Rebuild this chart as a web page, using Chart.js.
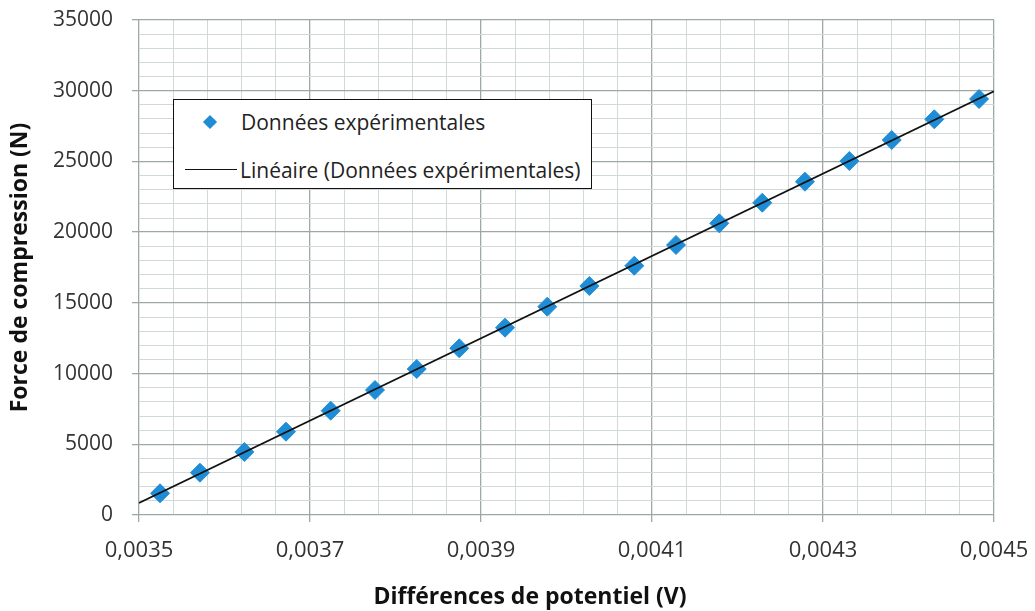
<!DOCTYPE html>
<html>
<head>
<meta charset="utf-8">
<script src="https://cdn.jsdelivr.net/npm/chart.js@4/dist/chart.umd.min.js"></script>
<style>
  html, body { margin: 0; padding: 0; background: #fff; }
  #wrap { position: relative; width: 1035px; height: 611px; }
  canvas { display: block; }
  #legend {
    position: absolute; left: 173px; top: 99px; width: 419px; height: 90px;
    border: 1.5px solid #111; background: #fff; box-sizing: border-box;
    font-family: "Open Sans", sans-serif; font-size: 21px; color: #222;
  }
  .row { position: absolute; left: 0; height: 28px; line-height: 28px; white-space: nowrap; }
  .sym { position: absolute; top: 0; height: 28px; }
  .txt { position: absolute; top: 0; }
  .diamond { position: absolute; width: 10px; height: 10px; background: #1f8dd6; transform: rotate(45deg); top: 9px; left: 0; }
  .lineSym { position: absolute; top: 13px; left: 0; width: 52px; height: 0; border-top: 1.5px solid #111; }
</style>
</head>
<body>
<div id="wrap">
  <canvas id="c" width="1035" height="611"></canvas>
  <div id="legend"></div>
</div>
<script>
// ---- Data ----
const voltage = [
  0.0035246, 0.0035713, 0.0036232, 0.0036719, 0.0037242,
  0.0037760, 0.0038248, 0.0038746, 0.0039281, 0.0039775,
  0.0040267, 0.0040793, 0.0041281, 0.0041787, 0.0042290,
  0.0042789, 0.0043308, 0.0043804, 0.0044302, 0.0044825
];
const force = [
  1534, 2991, 4455, 5890, 7375,
  8838, 10323, 11787, 13243, 14728,
  16192, 17627, 19091, 20625, 22081,
  23567, 25030, 26515, 27978, 29414
];
const seriesLabel = "Données expérimentales";
const trendLabel = "Linéaire (Données expérimentales)";
const xTitle = "Différences de potentiel (V)";
const yTitle = "Force de compression (N)";
const xMin = 0.0035, xMax = 0.0045, xMajor = 0.0002, xMinor = 0.00004;
const yMin = 0, yMax = 35000, yMajor = 5000, yMinor = 1000;

// ---- Least-squares linear trend ----
const n = voltage.length;
const mx = voltage.reduce((a, b) => a + b, 0) / n;
const my = force.reduce((a, b) => a + b, 0) / n;
let sxy = 0, sxx = 0;
for (let i = 0; i < n; i++) { sxy += (voltage[i] - mx) * (force[i] - my); sxx += (voltage[i] - mx) ** 2; }
const slope = sxy / sxx, intercept = my - slope * mx;
const trendPts = [xMin, xMax].map(x => ({ x, y: slope * x + intercept }));

const points = voltage.map((v, i) => ({ x: v, y: force[i] }));

const MARK = '#1f8dd6';
const GRID_MAJOR = '#9ea8a8';
const GRID_MINOR = '#d0d8d8';
const FONT = '"Open Sans", sans-serif';

const xPerMajor = Math.round(xMajor / xMinor);
const yPerMajor = Math.round(yMajor / yMinor);

const xTitlePlugin = {
  id: 'xTitle',
  afterDraw(chart) {
    const ctx = chart.ctx;
    ctx.save();
    ctx.font = 'bold 23px ' + FONT;
    ctx.fillStyle = '#111';
    ctx.textAlign = 'center';
    ctx.textBaseline = 'middle';
    ctx.fillText(xTitle, 530, 597);
    ctx.restore();
  }
};

new Chart(document.getElementById('c'), {
  type: 'scatter',
  data: {
    datasets: [
      {
        type: 'line',
        label: trendLabel,
        data: trendPts,
        borderColor: '#111',
        borderWidth: 1.6,
        pointRadius: 0,
        fill: false,
        order: 0
      },
      {
        label: seriesLabel,
        data: points,
        pointStyle: 'rectRot',
        pointRadius: 9.5,
        pointBackgroundColor: MARK,
        pointBorderColor: MARK,
        pointBorderWidth: 1,
        order: 1
      }
    ]
  },
  plugins: [xTitlePlugin],
  options: {
    responsive: false,
    animation: false,
    layout: { padding: { left: 0, right: 41, top: 20, bottom: 0 } },
    plugins: { legend: { display: false }, tooltip: { enabled: false } },
    scales: {
      x: {
        type: 'linear',
        min: xMin, max: xMax,
        afterFit(s) { s.height = 96; s.paddingLeft = 0; s.paddingRight = 0; },
        border: { display: false },
        grid: {
          color: c => (c.index % xPerMajor === 0 ? GRID_MAJOR : GRID_MINOR),
          lineWidth: c => (c.index % xPerMajor === 0 ? 1.3 : 1),
          tickColor: c => (c.index % xPerMajor === 0 ? GRID_MAJOR : 'rgba(0,0,0,0)'),
          tickLength: 7,
          drawTicks: true
        },
        ticks: {
          stepSize: xMinor,
          autoSkip: false,
          maxRotation: 0,
          padding: 16,
          color: '#333',
          font: { family: FONT, size: 22 },
          callback: function (v, i) {
            if (i % xPerMajor !== 0) return '';
            return v.toFixed(4).replace('.', ',');
          }
        }
      },
      y: {
        type: 'linear',
        min: yMin, max: yMax,
        afterFit(s) { s.width = 139; s.paddingTop = 0; s.paddingBottom = 0; },
        border: { display: false },
        grid: {
          color: c => (c.index % yPerMajor === 0 ? GRID_MAJOR : GRID_MINOR),
          lineWidth: c => (c.index % yPerMajor === 0 ? 1.3 : 1),
          tickColor: c => (c.index % yPerMajor === 0 ? GRID_MAJOR : 'rgba(0,0,0,0)'),
          tickLength: 7,
          drawTicks: true
        },
        ticks: {
          stepSize: yMinor,
          autoSkip: false,
          padding: 19,
          color: '#333',
          font: { family: FONT, size: 21 },
          callback: function (v, i) {
            if (i % yPerMajor !== 0) return '';
            return String(Math.round(v));
          }
        },
        title: {
          display: true,
          text: yTitle,
          color: '#111',
          font: { family: FONT, size: 23, weight: 'bold' },
          padding: { top: 7, bottom: 0 }
        }
      }
    }
  }
});

// ---- HTML legend inside plot area ----
const legend = document.getElementById('legend');
legend.innerHTML =
  '<div class="row" style="top:8px">' +
    '<span class="sym" style="left:31px;width:14px"><span class="diamond"></span></span>' +
    '<span class="txt" style="left:67px">' + seriesLabel + '</span>' +
  '</div>' +
  '<div class="row" style="top:56px">' +
    '<span class="sym" style="left:11px;width:52px"><span class="lineSym"></span></span>' +
    '<span class="txt" style="left:66px">' + trendLabel + '</span>' +
  '</div>';
</script>
</body>
</html>
